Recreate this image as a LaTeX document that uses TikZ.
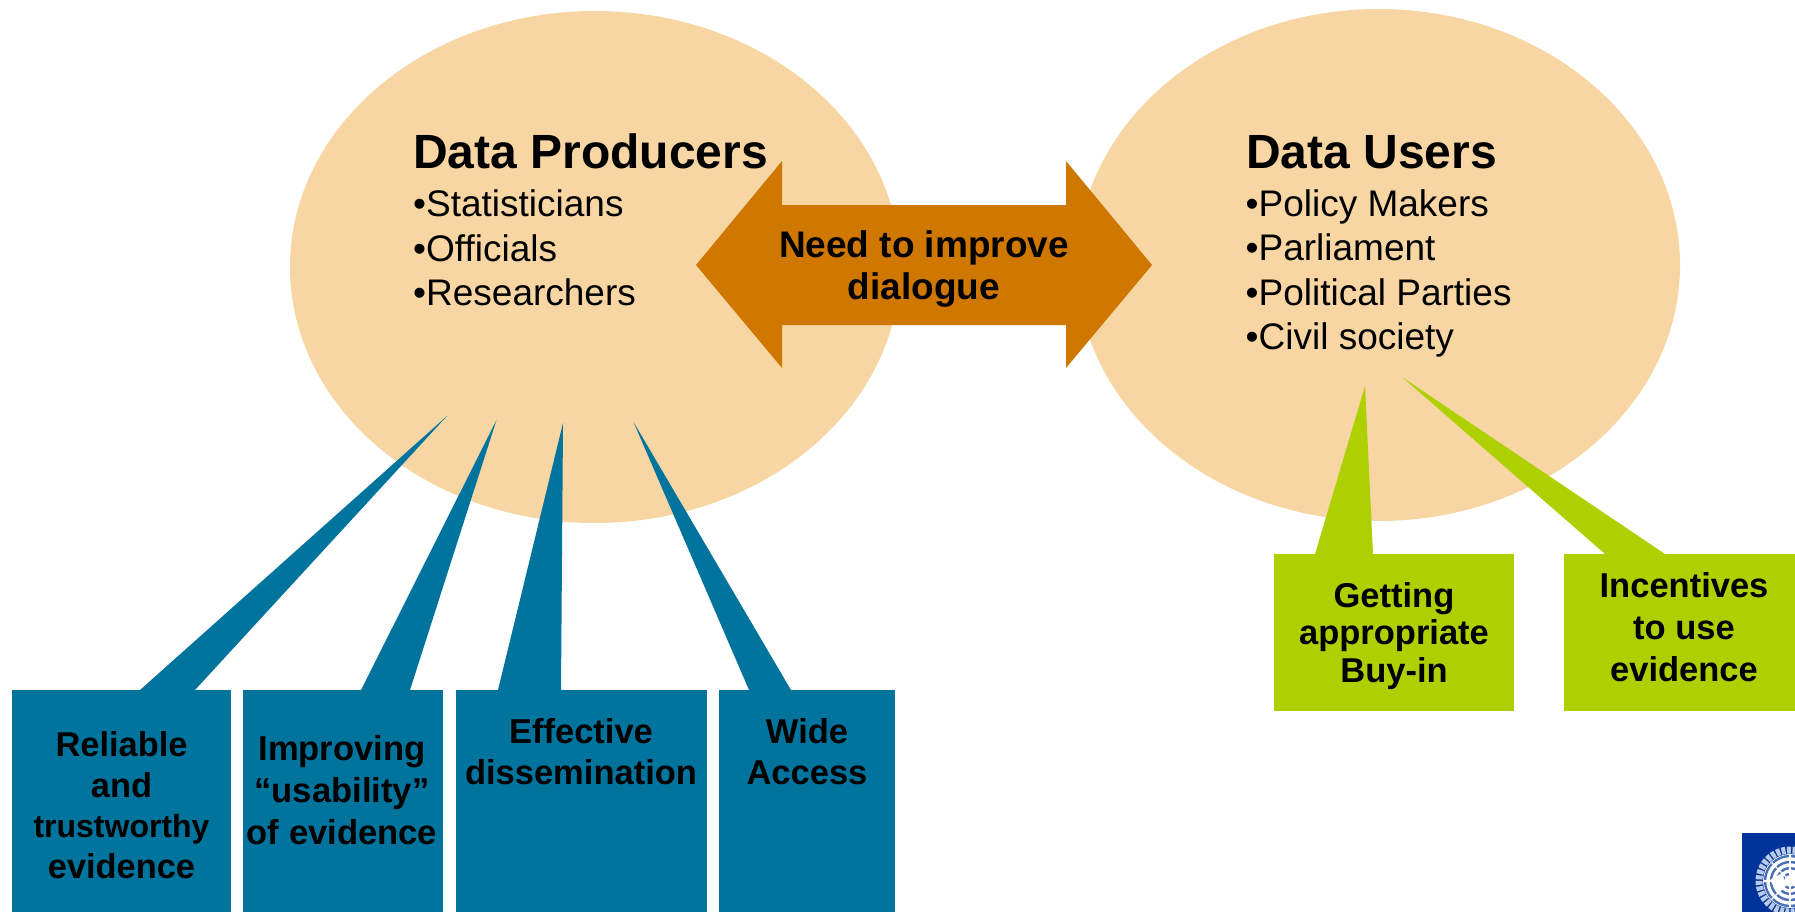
\documentclass[tikz,border=0pt]{standalone}
\usepackage{fontspec}
\setmainfont{Liberation Sans}
\definecolor{peach}{HTML}{F8D6A3}
\definecolor{amber}{HTML}{D07700}
\definecolor{teal}{HTML}{00749C}
\definecolor{lime}{HTML}{AFD000}
\definecolor{unblue}{HTML}{003399}
\definecolor{unpale}{HTML}{B9C9E8}
\newcommand{\fs}[2]{\fontsize{#1}{#2}\selectfont}
\tikzset{
  blob/.style={ellipse,fill=peach,inner sep=0pt,outer sep=0pt},
  tealbox/.style={fill=teal,inner sep=0pt,outer sep=0pt,anchor=north west},
  limebox/.style={fill=lime,inner sep=0pt,outer sep=0pt,anchor=north west},
  label/.style={align=center,inner sep=0pt},
  title/.style={anchor=base west,inner sep=0pt,font=\bfseries\fs{48}{48}},
  items/.style={anchor=west,align=left,inner sep=0pt,font=\fs{37}{44.6}},
}
\usetikzlibrary{shapes.geometric}
\begin{document}
\begin{tikzpicture}[x=1pt,y=-1pt]
\useasboundingbox (0,0) rectangle (1795,912);
% ellipses
\node[blob,minimum width=610pt,minimum height=512pt] (prod) at (595,267) {};
\node[blob,minimum width=603pt,minimum height=512pt] (user) at (1378.5,265) {};
% double arrow
\fill[amber] (696,265) -- (782,161) -- (782,205) -- (1066,205) -- (1066,161) -- (1152,265) -- (1066,368) -- (1066,325) -- (782,325) -- (782,368) -- cycle;
\node[label,font=\bfseries\fs{37}{42.5}] (need) at (924,269) {Need to improve\\dialogue};
% titles and lists
\node[title] (ptitle) at (413,169) {Data Producers};
\node[items] (plist) at (413,248) {•Statisticians\\•Officials\\•Researchers};
\node[title] (utitle) at (1246,168) {Data Users};
\node[items] (ulist) at (1245.5,273.5) {•Policy Makers\\•Parliament\\•Political Parties\\•Civil society};
% teal boxes
\node[tealbox,minimum width=219pt,minimum height=222pt] (b1) at (12,690) {};
\node[tealbox,minimum width=200pt,minimum height=222pt] (b2) at (243,690) {};
\node[tealbox,minimum width=251pt,minimum height=222pt] (b3) at (456,690) {};
\node[tealbox,minimum width=176pt,minimum height=222pt] (b4) at (719,690) {};
% lime boxes
\node[limebox,minimum width=240pt,minimum height=157pt] (g1) at (1274,554) {};
\node[limebox,minimum width=231pt,minimum height=157pt] (g2) at (1564,554) {};
% callout tips
\coordinate (t1) at (447,416);
\coordinate (t2) at (496.5,420);
\coordinate (t3) at (563,423);
\coordinate (t4) at (633.5,422);
\coordinate (t5) at (1365,386);
\coordinate (t6) at (1402,377);
\fill[teal] (t1) -- (b1.north west -| 140,0) -- (b1.north west -| 195,0) -- cycle;
\fill[teal] (t2) -- (b2.north west -| 361,0) -- (b2.north west -| 410,0) -- cycle;
\fill[teal] (t3) -- (b3.north west -| 498,0) -- (b3.north west -| 561,0) -- cycle;
\fill[teal] (t4) -- (b4.north west -| 749,0) -- (b4.north west -| 791,0) -- cycle;
\fill[lime] (t5) -- (g1.north west -| 1315,0) -- (g1.north west -| 1373,0) -- cycle;
\fill[lime] (t6) -- (g2.north west -| 1605,0) -- (g2.north west -| 1665,0) -- cycle;
% box labels
\node[label,font=\bfseries\fs{34.4}{40.5}] (l1) at (121.5,805) {Reliable\\and\\{\fs{32}{40.5}trustworthy}\\evidence};
\node[label,font=\bfseries\fs{34.6}{42}] (l2) at (342,790) {Improving\\“usability”\\of evidence};
\node[label,font=\bfseries\fs{34.5}{41}] (l3) at (581,752) {Effective\\dissemination};
\node[label,font=\bfseries\fs{34.5}{41}] (l4) at (807,752) {Wide\\Access};
\node[label,font=\bfseries\fs{34.5}{37.5}] (l5) at (1394,636) {Getting\\appropriate\\Buy-in};
\node[label,font=\bfseries\fs{34.5}{42}] (l6) at (1684,627) {Incentives\\to use\\evidence};
% emblem
\begin{scope}
\clip (1742,833) rectangle (1795,912);
\fill[unblue] (1742,833) rectangle (1795,912);
\draw[unpale,line width=7pt,dash pattern=on 4pt off 1.5pt] (1790,881) circle (31);
\fill[white] (1790,881) circle (27);
\foreach \r in {7,13,19,25}{\draw[unblue!70!white,line width=2.4pt] (1790,881) circle (\r);}
\foreach \a in {0,45,...,315}{\draw[white,line width=1.2pt] (1790,881) -- ++(\a:26);}
\fill[white] (1770,880) -- (1782,873) -- (1786,884) -- (1778,893) -- cycle;
\fill[white] (1789,875) -- (1795,871) -- (1795,886) -- cycle;
\end{scope}
\end{tikzpicture}
\end{document}
